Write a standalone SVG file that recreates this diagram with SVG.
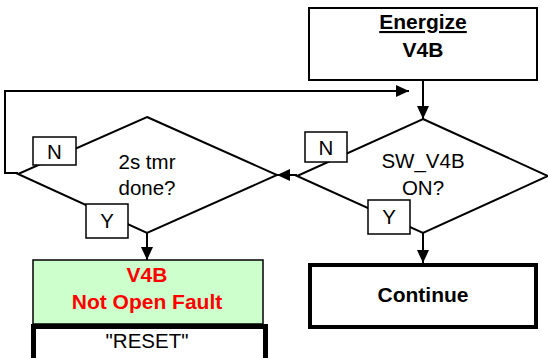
<svg xmlns="http://www.w3.org/2000/svg" width="548" height="358" viewBox="0 0 548 358">
<style>
.box{fill:#fff;stroke:#000;stroke-width:2}
.thick{fill:#fff;stroke:#000;stroke-width:4}
.dia{fill:#fff;stroke:#000;stroke-width:2}
.tag{fill:#fff;stroke:#000;stroke-width:1.5}
.conn{fill:none;stroke:#000;stroke-width:2}
text{font-family:"Liberation Sans",Arial,sans-serif;text-anchor:middle;fill:#000}
.b{font-weight:bold;font-size:21px}
.r{font-size:20.5px}
.red{fill:#ff0000}
</style>
<defs>
<marker id="ah" markerUnits="userSpaceOnUse" markerWidth="14" markerHeight="12" refX="13" refY="6" orient="auto">
<path d="M0,0 L13,6 L0,12 z" fill="#000"/>
</marker>
</defs>
<g id="connectors">
<line class="conn" x1="423" y1="80" x2="423" y2="119" marker-end="url(#ah)"/>
<line class="conn" x1="297" y1="175" x2="277" y2="175" marker-end="url(#ah)"/>
<line class="conn" x1="423" y1="233" x2="423" y2="263" marker-end="url(#ah)"/>
<line class="conn" x1="147" y1="233" x2="147" y2="260" marker-end="url(#ah)"/>
<polyline class="conn" points="18,173 5,173 5,91 409,91" marker-end="url(#ah)"/>
</g>
<g id="energize">
<rect class="box" x="309" y="8" width="228" height="72"/>
<text class="b" x="423" y="29" text-decoration="underline">Energize</text>
<text class="b" x="423" y="57">V4B</text>
</g>
<g id="sw_v4b">
<polygon class="dia" points="423,119 548,176 423,233 297,176"/>
<text class="r" x="423" y="168">SW_V4B</text>
<text class="r" x="423" y="195">ON?</text>
</g>
<g id="timer">
<polygon class="dia" points="147,117 277,175 147,233 18,174"/>
<text class="r" x="147" y="169">2s tmr</text>
<text class="r" x="147" y="195">done?</text>
</g>
<g id="n_left">
<rect class="tag" x="33" y="137" width="43" height="28"/>
<text class="r" x="54.5" y="159">N</text>
</g>
<g id="n_right">
<rect class="tag" x="305" y="132" width="42" height="30"/>
<text class="r" x="326" y="155">N</text>
</g>
<g id="y_left">
<rect class="tag" x="86" y="204" width="42" height="34"/>
<text class="r" x="107" y="228">Y</text>
</g>
<g id="y_right">
<rect class="tag" x="368" y="200" width="42" height="34"/>
<text class="r" x="389" y="224">Y</text>
</g>
<g id="fault">
<rect x="33" y="260" width="230" height="64" fill="#ccffcc" stroke="#000" stroke-width="1.5"/>
<text class="b red" x="147" y="282">V4B</text>
<text class="b red" x="147" y="309">Not Open Fault</text>
</g>
<g id="reset">
<rect x="33.5" y="326.5" width="232" height="40" fill="#fff" stroke="#000" stroke-width="5"/>
<text class="r" x="147" y="348">"RESET"</text>
</g>
<g id="continue">
<rect class="thick" x="310" y="265" width="226" height="62"/>
<text class="b" x="423" y="302">Continue</text>
</g>
</svg>
